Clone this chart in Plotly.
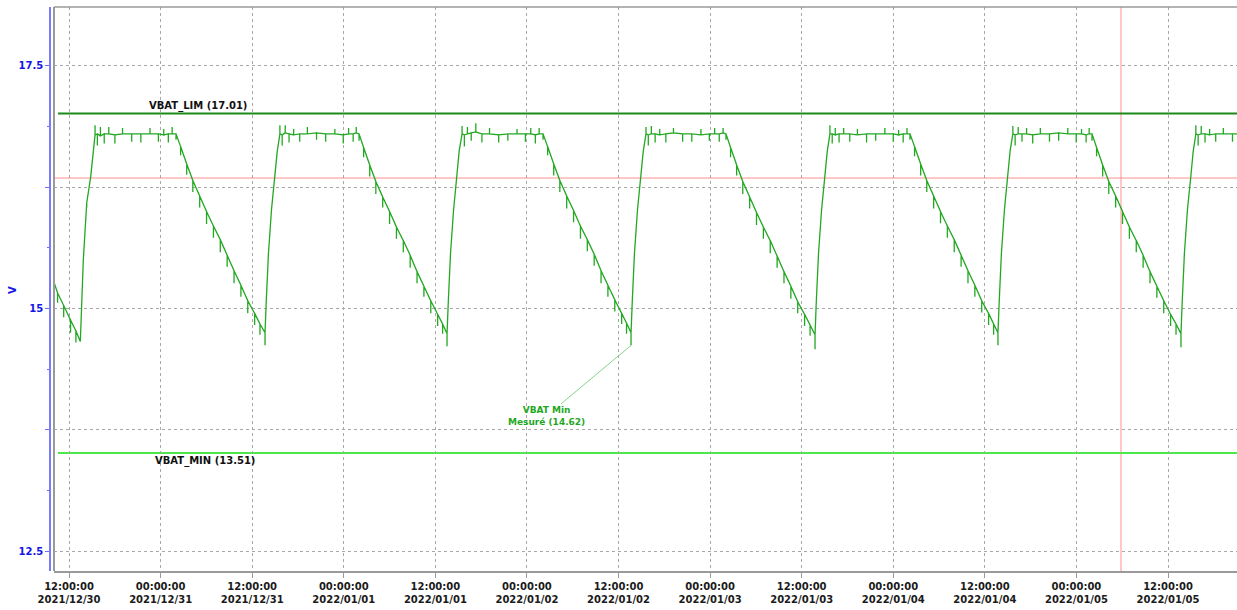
import plotly.graph_objects as go
import pandas as pd

BASE = pd.Timestamp("2021-12-30 00:00:00")
X_START_H = 10.03
X_END_H = 165.04

# Hours since 2021-12-30 00:00, voltage, and spike excursion at that sample
TIME_H = [
    10.03, 10.50, 11.30, 12.20, 12.90, 13.48, 13.87, 14.32, 14.84, 15.14,
    15.41, 15.71, 16.11, 16.61, 17.21, 18.01, 19.01, 20.21, 21.41, 22.61, 23.71, 24.41, 25.01, 25.51, 26.02,
    26.62, 27.42, 28.22, 29.12, 30.02, 30.92, 31.82, 32.72, 33.62, 34.52, 35.42, 36.32, 37.02, 37.68,
    37.83, 38.13, 38.53, 38.93, 39.28,
    39.63, 39.93, 40.33, 40.83, 41.43, 42.23, 43.23, 44.43, 45.63, 46.83, 47.93, 48.63, 49.23, 49.63, 50.00,
    50.60, 51.40, 52.20, 53.10, 54.00, 54.90, 55.80, 56.70, 57.60, 58.50, 59.40, 60.30, 60.95, 61.53,
    61.68, 61.98, 62.38, 62.78, 63.13,
    63.50, 63.80, 64.20, 64.70, 65.30, 66.10, 67.10, 68.30, 69.50, 70.70, 71.80, 72.50, 73.10, 73.60, 74.11,
    74.71, 75.51, 76.31, 77.21, 78.11, 79.01, 79.91, 80.81, 81.71, 82.61, 83.51, 84.41, 85.05, 85.64,
    85.79, 86.09, 86.49, 86.89, 87.24,
    87.60, 87.90, 88.30, 88.80, 89.40, 90.20, 91.20, 92.40, 93.60, 94.80, 95.90, 96.60, 97.20, 97.70, 98.08,
    98.68, 99.48, 100.28, 101.18, 102.08, 102.98, 103.88, 104.78, 105.68, 106.58, 107.48, 108.38, 109.10, 109.75,
    109.90, 110.20, 110.60, 111.00, 111.35,
    111.70, 112.00, 112.40, 112.90, 113.50, 114.30, 115.30, 116.50, 117.70, 118.90, 120.00, 120.70, 121.30, 121.80, 122.19,
    122.79, 123.59, 124.39, 125.29, 126.19, 127.09, 127.99, 128.89, 129.79, 130.69, 131.59, 132.49, 133.15, 133.72,
    133.87, 134.17, 134.57, 134.97, 135.32,
    135.67, 135.97, 136.37, 136.87, 137.47, 138.27, 139.27, 140.47, 141.67, 142.87, 143.97, 144.67, 145.27, 145.67, 146.04,
    146.64, 147.44, 148.24, 149.14, 150.04, 150.94, 151.84, 152.74, 153.64, 154.54, 155.44, 156.34, 157.05, 157.70,
    157.85, 158.15, 158.55, 158.95, 159.30,
    159.65, 159.95, 160.35, 160.85, 161.45, 162.25, 163.25, 164.45, 165.04,
]
VBAT = [
    15.27, 15.16, 15.03, 14.88, 14.77, 14.66, 15.50, 16.09, 16.36, 16.63,
    16.79, 16.80, 16.78, 16.80, 16.80, 16.79, 16.80, 16.80, 16.80, 16.80, 16.80, 16.79, 16.80, 16.80, 16.80,
    16.67, 16.49, 16.32, 16.16, 16.00, 15.85, 15.71, 15.55, 15.39, 15.24, 15.08, 14.95, 14.84, 14.75,
    15.05, 15.57, 16.02, 16.33, 16.62,
    16.80, 16.79, 16.81, 16.80, 16.79, 16.80, 16.80, 16.81, 16.80, 16.80, 16.79, 16.80, 16.80, 16.81, 16.80,
    16.66, 16.48, 16.31, 16.15, 16.00, 15.84, 15.70, 15.55, 15.38, 15.23, 15.08, 14.94, 14.84, 14.74,
    15.04, 15.56, 16.01, 16.34, 16.63,
    16.80, 16.79, 16.80, 16.81, 16.82, 16.80, 16.80, 16.79, 16.80, 16.80, 16.80, 16.80, 16.79, 16.80, 16.80,
    16.67, 16.49, 16.32, 16.16, 16.01, 15.85, 15.71, 15.56, 15.39, 15.24, 15.09, 14.95, 14.85, 14.75,
    15.05, 15.57, 16.02, 16.33, 16.62,
    16.80, 16.79, 16.80, 16.80, 16.79, 16.80, 16.81, 16.80, 16.80, 16.79, 16.80, 16.80, 16.80, 16.81, 16.80,
    16.66, 16.48, 16.31, 16.15, 15.99, 15.84, 15.70, 15.54, 15.38, 15.23, 15.07, 14.94, 14.83, 14.73,
    15.04, 15.56, 16.01, 16.33, 16.62,
    16.80, 16.80, 16.79, 16.80, 16.80, 16.80, 16.79, 16.80, 16.80, 16.80, 16.80, 16.79, 16.80, 16.80, 16.80,
    16.67, 16.49, 16.32, 16.16, 16.00, 15.85, 15.71, 15.55, 15.39, 15.24, 15.08, 14.95, 14.84, 14.75,
    15.05, 15.57, 16.02, 16.34, 16.63,
    16.80, 16.79, 16.80, 16.80, 16.80, 16.79, 16.80, 16.80, 16.81, 16.80, 16.80, 16.80, 16.79, 16.80, 16.80,
    16.66, 16.48, 16.31, 16.16, 16.00, 15.84, 15.70, 15.55, 15.38, 15.23, 15.08, 14.94, 14.84, 14.74,
    15.05, 15.57, 16.02, 16.33, 16.62,
    16.80, 16.79, 16.80, 16.80, 16.79, 16.80, 16.80, 16.80, 16.80,
]
SPIKE = [
    -0.13, -0.10, -0.12, -0.13, -0.12, 0, 0, -0.05, 0, 0,
    0.10, -0.12, 0.09, -0.10, 0.07, -0.09, 0.06, -0.08, -0.09, 0.06, -0.08, 0.06, -0.09, 0.07, -0.06,
    -0.09, -0.11, -0.12, -0.12, -0.13, -0.12, -0.13, -0.12, -0.13, -0.12, -0.13, -0.12, -0.11, -0.13,
    0, -0.06, 0, -0.05, 0,
    0.09, -0.11, 0.08, -0.09, 0.06, -0.08, 0.07, -0.07, -0.08, 0.05, -0.09, 0.06, -0.08, 0.06, -0.07,
    -0.10, -0.12, -0.13, -0.11, -0.13, -0.12, -0.12, -0.13, -0.12, -0.11, -0.13, -0.12, -0.10, -0.13,
    0, -0.05, 0, -0.06, 0,
    0.08, -0.12, 0.07, -0.08, 0.09, -0.09, 0.06, -0.08, -0.07, 0.05, -0.08, 0.06, -0.09, 0.06, -0.06,
    -0.09, -0.12, -0.12, -0.13, -0.12, -0.13, -0.12, -0.12, -0.13, -0.12, -0.12, -0.11, -0.11, -0.13,
    0, -0.05, 0, -0.05, 0,
    0.07, -0.11, 0.08, -0.09, 0.06, -0.09, 0.05, -0.08, -0.08, 0.06, -0.07, 0.06, -0.08, 0.05, -0.06,
    -0.10, -0.11, -0.13, -0.12, -0.13, -0.12, -0.13, -0.12, -0.12, -0.13, -0.12, -0.12, -0.11, -0.15,
    0, -0.06, 0, -0.05, 0,
    0.09, -0.10, 0.07, -0.09, 0.06, -0.08, 0.06, -0.09, -0.07, 0.06, -0.08, 0.05, -0.09, 0.06, -0.06,
    -0.10, -0.12, -0.12, -0.13, -0.12, -0.12, -0.13, -0.12, -0.13, -0.12, -0.12, -0.12, -0.11, -0.13,
    0, -0.05, 0, -0.06, 0,
    0.08, -0.11, 0.07, -0.08, 0.06, -0.09, 0.06, -0.08, -0.08, 0.06, -0.09, 0.05, -0.08, 0.06, -0.07,
    -0.09, -0.12, -0.13, -0.12, -0.13, -0.12, -0.12, -0.13, -0.12, -0.12, -0.13, -0.12, -0.11, -0.14,
    0, -0.05, 0, -0.06, 0,
    0.09, -0.11, 0.08, -0.09, 0.06, -0.08, 0.06, -0.08, 0,
]

VBAT_LIM = 17.01
VBAT_MIN = 13.51
CURSOR_V = 16.345
CURSOR_H = 149.84
MIN_MEAS = 14.62
MIN_MEAS_H = 85.64

TICK_TIMES = ["2021-12-30 12:00", "2021-12-31 00:00", "2021-12-31 12:00", "2022-01-01 00:00",
              "2022-01-01 12:00", "2022-01-02 00:00", "2022-01-02 12:00", "2022-01-03 00:00",
              "2022-01-03 12:00", "2022-01-04 00:00", "2022-01-04 12:00", "2022-01-05 00:00",
              "2022-01-05 12:00"]
TICK_LABELS = ["12:00:00<br>2021/12/30", "00:00:00<br>2021/12/31", "12:00:00<br>2021/12/31",
               "00:00:00<br>2022/01/01", "12:00:00<br>2022/01/01", "00:00:00<br>2022/01/02",
               "12:00:00<br>2022/01/02", "00:00:00<br>2022/01/03", "12:00:00<br>2022/01/03",
               "00:00:00<br>2022/01/04", "12:00:00<br>2022/01/04", "00:00:00<br>2022/01/05",
               "12:00:00<br>2022/01/05"]
Y_TICKS = [12.5, 13.75, 15, 16.25, 17.5]
Y_TICK_LABELS = ["12.5", "", "15", "", "17.5"]
Y_RANGE = [12.294, 18.108]


def to_time(h):
    return BASE + pd.to_timedelta(h, unit="h")


# build path: each sample, plus its spike excursion drawn as a vertical stroke
xs, ys = [], []
for h, v, s in zip(TIME_H, VBAT, SPIKE):
    t = to_time(h)
    xs.append(t); ys.append(v)
    if s != 0:
        xs += [t, t]; ys += [v + s, v]

FONT = "DejaVu Sans"
GRID = "#a8a8a8"

fig = go.Figure()
fig.add_trace(go.Scatter(x=xs, y=ys, mode="lines",
                         line=dict(color="#22a822", width=1.3),
                         hoverinfo="skip", showlegend=False))

shapes = [
    # plot frame (left, top)
    dict(type="line", xref="x domain", yref="y domain", x0=0, x1=0, y0=0, y1=1,
         line=dict(color="#9a9a9a", width=2)),
    dict(type="line", xref="x domain", yref="y domain", x0=0, x1=1, y0=1, y1=1,
         line=dict(color="#9a9a9a", width=1.5)),
    # cursors
    dict(type="line", xref="x domain", yref="y", x0=0, x1=1, y0=CURSOR_V, y1=CURSOR_V,
         line=dict(color="#ff8f8f", width=1), layer="below"),
    dict(type="line", xref="x", yref="y domain", x0=to_time(CURSOR_H), x1=to_time(CURSOR_H),
         y0=0, y1=1, line=dict(color="#ff8f8f", width=1), layer="below"),
    # limits
    dict(type="line", xref="x domain", yref="y", x0=0.0034, x1=1, y0=VBAT_LIM, y1=VBAT_LIM,
         line=dict(color="#1b8a1b", width=2.2), layer="below"),
    dict(type="line", xref="x domain", yref="y", x0=0.0034, x1=1, y0=VBAT_MIN, y1=VBAT_MIN,
         line=dict(color="#4be84b", width=2), layer="below"),
]

annotations = [
    dict(xref="x domain", yref="y", x=0.1217, y=VBAT_LIM, xanchor="center", yanchor="bottom",
         showarrow=False, text=f"VBAT_LIM ({VBAT_LIM:.2f})",
         font=dict(family=FONT, size=10, color="#111", weight="bold")),
    dict(xref="x domain", yref="y", x=0.128, y=VBAT_MIN, xanchor="center", yanchor="top",
         showarrow=False, text=f"VBAT_MIN ({VBAT_MIN:.2f})",
         font=dict(family=FONT, size=10, color="#111", weight="bold")),
    dict(xref="x", yref="y", x=to_time(MIN_MEAS_H), y=MIN_MEAS,
         text=f"VBAT Min<br>Mesuré ({MIN_MEAS:.2f})", showarrow=True, arrowhead=0,
         arrowwidth=1, arrowcolor="#86d686", ax=-85, ay=71,
         font=dict(family=FONT, size=9, color="#1fa81f", weight="bold")),
    dict(xref="paper", yref="paper", x=(12 - 50) / 1187, y=(571 - 290) / 564, xanchor="center",
         yanchor="middle", showarrow=False, text="V", textangle=-90,
         font=dict(family=FONT, size=10, color="#1515e6", weight="bold")),
]

fig.update_layout(
    width=1237, height=610,
    margin=dict(l=50, r=0, t=7, b=39, autoexpand=False),
    paper_bgcolor="white", plot_bgcolor="white",
    shapes=shapes, annotations=annotations,
    showlegend=False,
    xaxis=dict(
        type="date", domain=[4 / 1187, 1], automargin=False,
        range=[to_time(X_START_H), to_time(X_END_H)],
        tickmode="array", tickvals=[pd.Timestamp(t) for t in TICK_TIMES], ticktext=TICK_LABELS,
        tickfont=dict(family=FONT, size=10, color="#1a1a1a", weight="bold"),
        ticks="outside", ticklen=5, tickcolor="#9a9a9a",
        showline=True, linecolor="#9a9a9a", linewidth=2,
        showgrid=True, gridcolor=GRID, griddash="dot", gridwidth=1,
        zeroline=False,
    ),
    yaxis=dict(
        range=Y_RANGE, anchor="free", position=0, automargin=False,
        tickmode="array", tickvals=Y_TICKS, ticktext=Y_TICK_LABELS,
        tickfont=dict(family=FONT, size=10, color="#1515e6", weight="bold"),
        ticks="outside", ticklen=4, tickcolor="#6b6bff",
        showline=True, linecolor="#7a7aff", linewidth=1.5,
        showgrid=True, gridcolor=GRID, griddash="dot", gridwidth=1,
        zeroline=False,
        minor=dict(dtick=0.625, tick0=12.5, ticks="outside", ticklen=2, tickcolor="#6b6bff",
                   showgrid=False),
    ),
)

fig.write_html("out.html", config={"displayModeBar": False},
               post_script="document.body.style.margin='0px';")
